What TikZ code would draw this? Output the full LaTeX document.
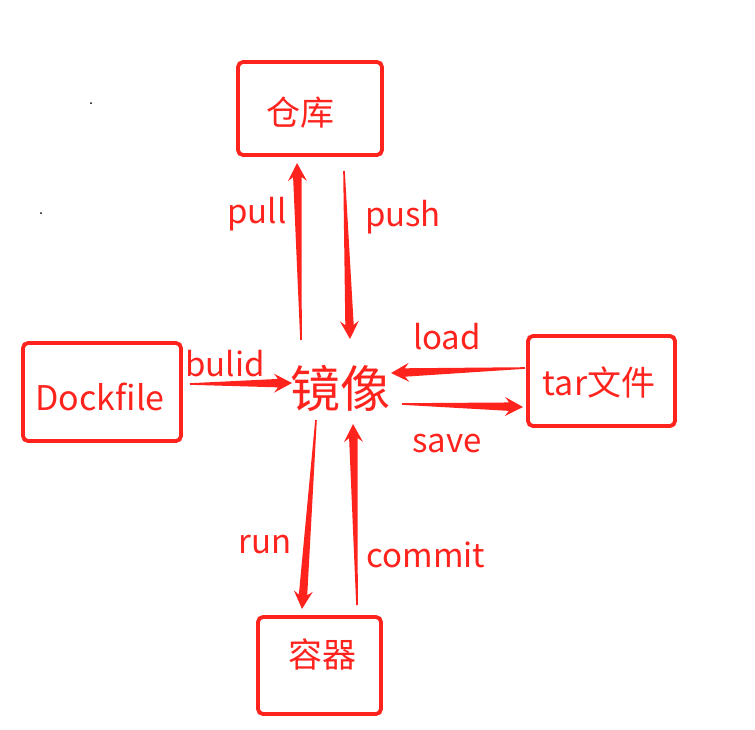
\documentclass[tikz,border=0pt]{standalone}
\usepackage{fontspec}
\setmainfont{Noto Sans CJK SC}
\usetikzlibrary{calc}
\definecolor{arrowred}{RGB}{255,35,30}
\newcommand\taperarrow[2]{%
  \coordinate (tA) at (#1); \coordinate (tB) at (#2);
  \coordinate (tC) at ($(tB)!18pt!(tA)$);
  \coordinate (tD) at ($(tB)!14pt!(tA)$);
  \fill[arrowred] ($(tA)!0.8pt!90:(tB)$) -- ($(tD)!4.2pt!-90:(tA)$) -- ($(tC)!9.5pt!-90:(tA)$) -- (tB)
    -- ($(tC)!9.5pt!90:(tA)$) -- ($(tD)!4.2pt!90:(tA)$) -- ($(tA)!0.8pt!-90:(tB)$) -- cycle;
}
\begin{document}
\begin{tikzpicture}[x=1pt,y=-1pt,
  box/.style={draw=arrowred, line width=3.8pt, rounded corners=5pt},
  boxtext/.style={text=arrowred, font=\fontsize{34}{40}\selectfont},
  lbl/.style={text=arrowred, font=\fontsize{33}{40}\selectfont, inner sep=0pt}]
\useasboundingbox[fill=white] (0,0) rectangle (755,729);
% boxes
\draw[box] (238,62) rectangle (382,155);
\node[boxtext] (repo) at (300,113) {仓库};
\draw[box] (23,343) rectangle (181,441);
\node[boxtext] (dock) at (100,397) {Dockfile};
\draw[box] (528,336) rectangle (675,426);
\node[boxtext] (tar) at (599,382) {tar文件};
\draw[box] (258,617) rectangle (381,714);
\node[boxtext] (cont) at (322,654) {容器};
\node[text=arrowred, font=\fontsize{50}{60}\selectfont] (img) at (340,388) {镜像};
% labels
\node[lbl] (lpull) at (257,214) {pull};
\node[lbl] (lpush) at (403,217) {push};
\node[lbl] (lload) at (447,337) {load};
\node[lbl] (lbulid) at (225,364) {bulid};
\node[lbl] (lsave) at (447,444) {save};
\node[lbl] (lrun) at (265,545) {run};
\node[lbl] (lcommit) at (426,555) {commit};
% arrow endpoints
\coordinate (pullA) at (301,340); \coordinate (pullB) at (297,163);
\coordinate (pushA) at (344,171); \coordinate (pushB) at (350,339);
\coordinate (bulidA) at (190,384); \coordinate (bulidB) at (292,383);
\coordinate (loadA) at (525,368); \coordinate (loadB) at (391,373);
\coordinate (saveA) at (402,404); \coordinate (saveB) at (523,407);
\coordinate (runA) at (316,420); \coordinate (runB) at (302,609);
\coordinate (commitA) at (357,605); \coordinate (commitB) at (353,424);
\taperarrow{pullA}{pullB}
\taperarrow{pushA}{pushB}
\taperarrow{bulidA}{bulidB}
\taperarrow{loadA}{loadB}
\taperarrow{saveA}{saveB}
\taperarrow{runA}{runB}
\taperarrow{commitA}{commitB}
% specks
\fill[black] (91,103) circle (1);
\fill[black] (41,213) circle (1);
\end{tikzpicture}
\end{document}
